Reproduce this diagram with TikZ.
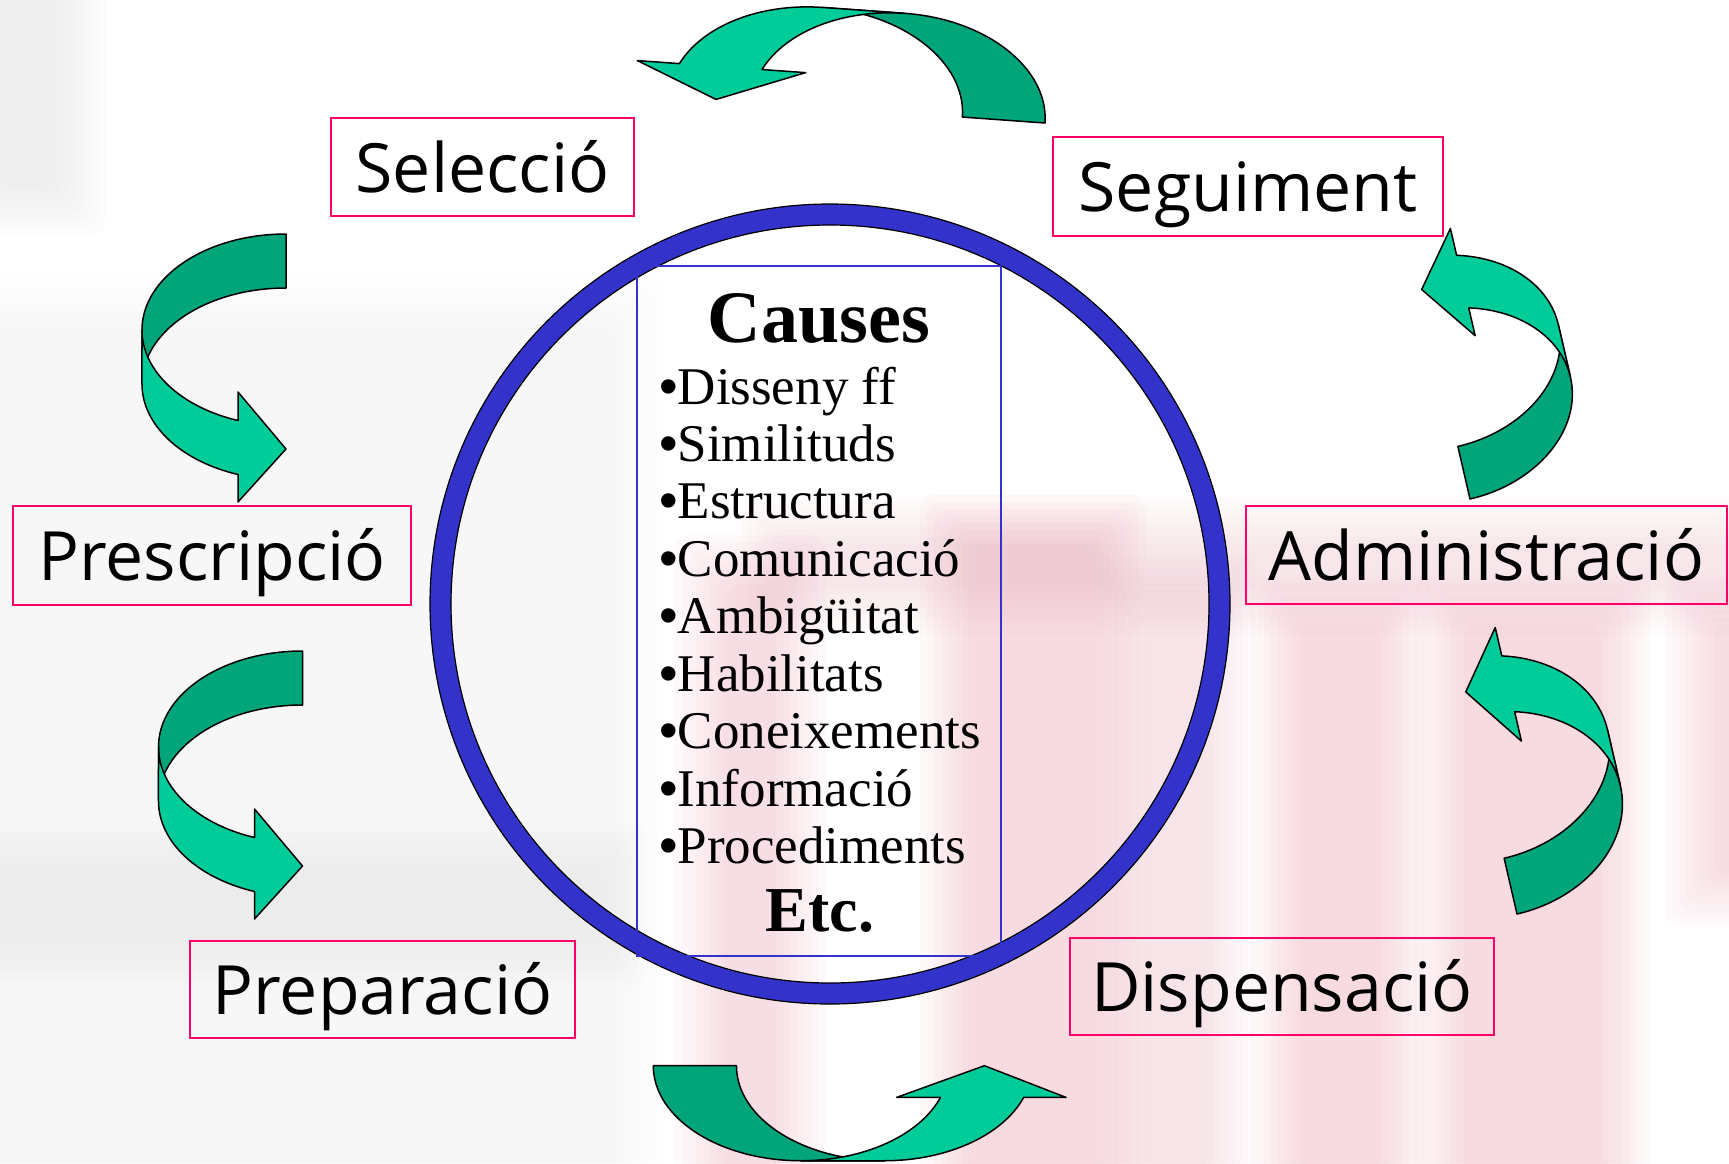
\documentclass[tikz,border=0pt]{standalone}
\usepackage{fontspec}
\setmainfont{Liberation Serif}
\newfontfamily\lblfont{Open Sans}
\newfontfamily\bulfont{Liberation Sans}
\definecolor{ringblue}{RGB}{51,51,204}
\definecolor{boxpink}{RGB}{255,0,102}
\definecolor{arrdarkc}{RGB}{0,165,122}
\definecolor{arrlightc}{RGB}{0,204,153}
\definecolor{bgpink}{RGB}{238,170,185}
\definecolor{bggray}{RGB}{190,190,190}
\tikzset{
  lbl/.style={draw=boxpink, line width=2.4pt, inner sep=0pt, text height=50pt, text depth=0pt,
    font=\lblfont\fontsize{68}{68}\selectfont},
  bul/.style={anchor=base west, inner sep=0pt, font=\fontsize{53}{53}\selectfont},
  ttl/.style={anchor=base, inner sep=0pt},
  arrdark/.style={fill=arrdarkc, draw=black, line width=1.5pt, line join=round},
  arrlight/.style={fill=arrlightc, draw=black, line width=1.5pt, line join=round},
}
\newcommand{\bigbul}{{\bulfont •}}
\newcommand{\softrect}[6]{%
  \foreach \k in {0,...,7}{%
    \fill[#1, opacity=#6, rounded corners=14pt] ({#2-25+7*\k},{#3-25+7*\k}) rectangle ({#4+25-7*\k},{#5+25-7*\k});
  }}
\newcommand{\CurvArrowShape}{%
  \filldraw[arrdark] (0,0) arc[start angle=270, end angle=180, x radius=144, y radius=96]
    -- (-144,150) arc[start angle=180, end angle=270, x radius=144, y radius=96] -- cycle;
  \filldraw[arrlight] (-144,96) arc[start angle=180, end angle=109.47, x radius=144, y radius=96]
    -- (-48,158) -- (0,215) -- (-48,268) -- (-48,240.5)
    arc[start angle=109.47, end angle=180, x radius=144, y radius=96] -- cycle;
}
\begin{document}
\begin{tikzpicture}[x=1pt, y=1pt, yscale=-1]
\useasboundingbox (0,0) rectangle (1729,1163);
\fill[white] (0,0) rectangle (1729,1163);
% background blur
\softrect{bgpink}{700}{560}{800}{1200}{0.05}
\softrect{bgpink}{945}{520}{1120}{1200}{0.06}
\softrect{bgpink}{1120}{580}{1230}{1200}{0.04}
\softrect{bgpink}{1275}{600}{1405}{1200}{0.06}
\softrect{bgpink}{1440}{600}{1625}{1200}{0.06}
\softrect{bgpink}{1690}{600}{1760}{900}{0.05}
\softrect{bgpink}{760}{520}{1760}{610}{0.035}
\softrect{bggray}{-30}{-30}{80}{210}{0.03}
\softrect{bggray}{-30}{300}{640}{1200}{0.012}
\softrect{bggray}{-30}{850}{620}{960}{0.02}
% ring
\draw[ringblue, line width=21pt] (830,604) circle[radius=389.5];
\draw[black, line width=1.2pt] (830,604) circle[radius=400] (830,604) circle[radius=379];
% causes box
\node[draw=ringblue, line width=1.5pt, minimum width=364pt, minimum height=690pt, inner sep=0pt] (causesbox) at (819,611) {};
\node[ttl, font=\bfseries\fontsize{74}{74}\selectfont] (causes) at (819,342) {Causes};
\node[bul] (c1) at (659,404) {\bigbul Disseny ff};
\node[bul] (c2) at (659,461) {\bigbul Similituds};
\node[bul] (c3) at (659,518) {\bigbul Estructura};
\node[bul] (c4) at (659,576) {\bigbul Comunicació};
\node[bul] (c5) at (659,633) {\bigbul Ambigüitat};
\node[bul] (c6) at (659,691) {\bigbul Habilitats};
\node[bul] (c7) at (659,748) {\bigbul Coneixements};
\node[bul] (c8) at (659,806) {\bigbul Informació};
\node[bul] (c9) at (659,863) {\bigbul Procediments};
\node[ttl, font=\bfseries\fontsize{64}{64}\selectfont] (etc) at (820,931) {Etc.};
% labels
\node[lbl, minimum width=303pt, minimum height=98pt] (sel) at (482.5,167) {Selecció};
\node[lbl, minimum width=390pt, minimum height=99pt] (seg) at (1248,186.5) {Seguiment};
\node[lbl, minimum width=398pt, minimum height=99pt] (pre) at (212,555.5) {Prescripció};
\node[lbl, minimum width=481pt, minimum height=98pt] (adm) at (1486.5,555) {Administració};
\node[lbl, minimum width=385pt, minimum height=97pt] (prp) at (382.5,989.5) {Preparació};
\node[lbl, minimum width=424pt, minimum height=97pt] (dis) at (1282,986.5) {Dispensació};
% curved arrows
\begin{scope}[shift={(1045,123)}, rotate=94.1, xscale=0.69, yscale=1.534]\CurvArrowShape\end{scope}
\begin{scope}[shift={(286,234)}]\CurvArrowShape\end{scope}
\begin{scope}[shift={(302.5,651)}]\CurvArrowShape\end{scope}
\begin{scope}[shift={(653.3,1065.7)}, rotate=-90, xscale=0.66, yscale=1.54]\CurvArrowShape\end{scope}
\begin{scope}[shift={(1517,914)}, rotate=167, xscale=0.9, yscale=1.06]\CurvArrowShape\end{scope}
\begin{scope}[shift={(1470,499)}, rotate=167, xscale=0.87, yscale=1.0]\CurvArrowShape\end{scope}
\end{tikzpicture}
\end{document}
